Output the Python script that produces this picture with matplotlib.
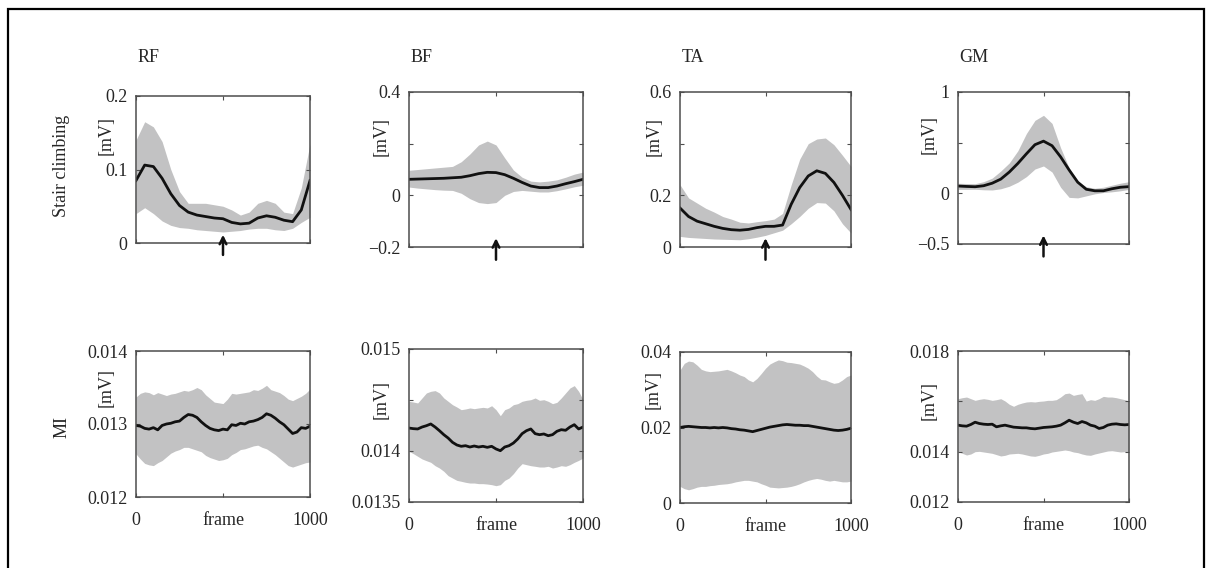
import numpy as np
import matplotlib.pyplot as plt
from matplotlib.patches import Rectangle

plt.rcParams['font.family'] = ['Liberation Serif', 'DejaVu Serif']

muscles = ['RF', 'BF', 'TA', 'GM']
rows = ['Stair climbing', 'MI']

# frames for stair climbing (every 50) and MI (every 25)
frames_sc = list(range(0, 1001, 50))
frames_mi = list(range(0, 1001, 25))

# ---- stair climbing: mean, mean+sd, mean-sd  [mV]
rf_sc_mean = [0.085, 0.106, 0.104, 0.088, 0.067, 0.051, 0.042, 0.038, 0.036, 0.034, 0.033,
              0.028, 0.026, 0.027, 0.034, 0.037, 0.035, 0.031, 0.029, 0.045, 0.085]
rf_sc_up = [0.140, 0.165, 0.158, 0.138, 0.100, 0.070, 0.054, 0.054, 0.054, 0.052, 0.050,
            0.045, 0.038, 0.042, 0.054, 0.058, 0.054, 0.042, 0.040, 0.075, 0.135]
rf_sc_lo = [0.040, 0.048, 0.040, 0.030, 0.024, 0.021, 0.020, 0.018, 0.017, 0.016, 0.015,
            0.016, 0.017, 0.019, 0.020, 0.020, 0.018, 0.017, 0.020, 0.028, 0.035]

bf_sc_mean = [0.062, 0.063, 0.064, 0.065, 0.066, 0.068, 0.070, 0.076, 0.084, 0.089, 0.088,
              0.080, 0.066, 0.050, 0.036, 0.030, 0.030, 0.036, 0.045, 0.053, 0.062]
bf_sc_up = [0.097, 0.100, 0.103, 0.106, 0.109, 0.112, 0.130, 0.160, 0.195, 0.210, 0.195,
            0.145, 0.098, 0.070, 0.055, 0.052, 0.055, 0.060, 0.070, 0.082, 0.090]
bf_sc_lo = [0.032, 0.028, 0.025, 0.022, 0.020, 0.019, 0.008, -0.013, -0.028, -0.032, -0.028,
            0.000, 0.015, 0.019, 0.016, 0.013, 0.013, 0.018, 0.025, 0.033, 0.039]

ta_sc_mean = [0.151, 0.118, 0.100, 0.090, 0.080, 0.072, 0.067, 0.065, 0.068, 0.075, 0.080,
              0.080, 0.085, 0.165, 0.230, 0.275, 0.295, 0.285, 0.250, 0.200, 0.145]
ta_sc_up = [0.241, 0.190, 0.170, 0.150, 0.135, 0.118, 0.108, 0.096, 0.093, 0.098, 0.102,
            0.108, 0.130, 0.240, 0.340, 0.400, 0.418, 0.422, 0.396, 0.355, 0.312]
ta_sc_lo = [0.041, 0.037, 0.035, 0.033, 0.031, 0.030, 0.029, 0.028, 0.032, 0.038, 0.045,
            0.055, 0.065, 0.090, 0.118, 0.150, 0.172, 0.170, 0.140, 0.090, 0.054]

gm_sc_mean = [0.072, 0.068, 0.065, 0.075, 0.100, 0.140, 0.210, 0.295, 0.390, 0.480, 0.515,
              0.470, 0.360, 0.230, 0.110, 0.040, 0.025, 0.025, 0.045, 0.060, 0.066]
gm_sc_up = [0.099, 0.097, 0.095, 0.115, 0.150, 0.220, 0.300, 0.420, 0.590, 0.720, 0.770,
            0.690, 0.450, 0.250, 0.120, 0.065, 0.050, 0.060, 0.080, 0.100, 0.115]
gm_sc_lo = [0.039, 0.039, 0.040, 0.035, 0.033, 0.045, 0.070, 0.110, 0.165, 0.240, 0.270,
            0.210, 0.060, -0.040, -0.045, -0.025, -0.005, 0.008, 0.015, 0.025, 0.039]

# ---- MI
rf_mi_mean = [0.01298, 0.01297, 0.01294, 0.01293, 0.01295, 0.01292, 0.01298, 0.01300, 0.01301,
              0.01303, 0.01304, 0.01309, 0.01313, 0.01312, 0.01309, 0.01303, 0.01298, 0.01294,
              0.01292, 0.01291, 0.01293, 0.01292, 0.01299, 0.01298, 0.01301, 0.01300, 0.01303,
              0.01304, 0.01306, 0.01309, 0.01314, 0.01312, 0.01308, 0.01303, 0.01299, 0.01293,
              0.01287, 0.01289, 0.01295, 0.01294, 0.01297]
rf_mi_up = [0.01337, 0.01342, 0.01344, 0.01343, 0.01340, 0.01343, 0.01341, 0.01339, 0.01341,
            0.01342, 0.01344, 0.01346, 0.01345, 0.01347, 0.01350, 0.01347, 0.01340, 0.01335,
            0.01330, 0.01329, 0.01328, 0.01334, 0.01342, 0.01341, 0.01342, 0.01343, 0.01344,
            0.01347, 0.01346, 0.01349, 0.01353, 0.01347, 0.01345, 0.01343, 0.01339, 0.01334,
            0.01332, 0.01335, 0.01338, 0.01342, 0.01348]
rf_mi_lo = [0.01259, 0.01252, 0.01246, 0.01244, 0.01243, 0.01247, 0.01250, 0.01255, 0.01260,
            0.01263, 0.01265, 0.01268, 0.01268, 0.01266, 0.01264, 0.01262, 0.01257, 0.01254,
            0.01252, 0.01250, 0.01251, 0.01253, 0.01258, 0.01261, 0.01265, 0.01266, 0.01268,
            0.01270, 0.01271, 0.01268, 0.01266, 0.01262, 0.01258, 0.01253, 0.01248, 0.01243,
            0.01241, 0.01243, 0.01245, 0.01247, 0.01248]

bf_mi_mean = [0.014225, 0.014219, 0.014216, 0.014235, 0.014248, 0.014265, 0.014235, 0.014199,
              0.014160, 0.014127, 0.014085, 0.014059, 0.014046, 0.014052, 0.014039, 0.014049,
              0.014039, 0.014046, 0.014036, 0.014046, 0.014020, 0.014003, 0.014039, 0.014052,
              0.014078, 0.014118, 0.014170, 0.014199, 0.014216, 0.014170, 0.014160, 0.014167,
              0.014150, 0.014160, 0.014193, 0.014209, 0.014203, 0.014235, 0.014258, 0.014216,
              0.014235]
bf_mi_up = [0.014487, 0.014480, 0.014471, 0.014520, 0.014569, 0.014585, 0.014592, 0.014569,
            0.014520, 0.014487, 0.014454, 0.014431, 0.014405, 0.014412, 0.014422, 0.014415,
            0.014422, 0.014428, 0.014422, 0.014444, 0.014405, 0.014346, 0.014405, 0.014422,
            0.014454, 0.014464, 0.014487, 0.014497, 0.014503, 0.014520, 0.014497, 0.014503,
            0.014487, 0.014464, 0.014477, 0.014520, 0.014569, 0.014618, 0.014641, 0.014585,
            0.014503]
bf_mi_lo = [0.013997, 0.013974, 0.013948, 0.013922, 0.013905, 0.013889, 0.013856, 0.013833,
            0.013801, 0.013758, 0.013735, 0.013712, 0.013703, 0.013693, 0.013686, 0.013686,
            0.013680, 0.013680, 0.013676, 0.013670, 0.013660, 0.013670, 0.013712, 0.013735,
            0.013778, 0.013833, 0.013876, 0.013866, 0.013856, 0.013850, 0.013843, 0.013843,
            0.013850, 0.013833, 0.013843, 0.013856, 0.013850, 0.013866, 0.013889, 0.013908,
            0.013931]

ta_mi_mean = [0.0200, 0.0202, 0.0203, 0.0202, 0.0201, 0.0200, 0.0200, 0.0199, 0.0200, 0.0199,
              0.0200, 0.0199, 0.0197, 0.0196, 0.0194, 0.0193, 0.0191, 0.0189, 0.0192, 0.0195,
              0.0198, 0.0201, 0.0203, 0.0205, 0.0207, 0.0208, 0.0207, 0.0206, 0.0206, 0.0205,
              0.0205, 0.0203, 0.0201, 0.0199, 0.0197, 0.0195, 0.0193, 0.0192, 0.0193, 0.0195,
              0.0198]
ta_mi_up = [0.0352, 0.0370, 0.0376, 0.0374, 0.0365, 0.0354, 0.0350, 0.0348, 0.0349, 0.0350,
            0.0352, 0.0354, 0.0350, 0.0345, 0.0339, 0.0335, 0.0326, 0.0321, 0.0330, 0.0343,
            0.0357, 0.0368, 0.0374, 0.0379, 0.0377, 0.0373, 0.0372, 0.0370, 0.0368, 0.0363,
            0.0357, 0.0348, 0.0336, 0.0327, 0.0326, 0.0321, 0.0317, 0.0319, 0.0326, 0.0335,
            0.0339]
ta_mi_lo = [0.0044, 0.0038, 0.0035, 0.0038, 0.0042, 0.0044, 0.0044, 0.0046, 0.0047, 0.0049,
            0.0050, 0.0051, 0.0053, 0.0056, 0.0058, 0.0060, 0.0060, 0.0058, 0.0056, 0.0051,
            0.0047, 0.0042, 0.0041, 0.0040, 0.0041, 0.0042, 0.0044, 0.0047, 0.0051, 0.0056,
            0.0060, 0.0063, 0.0065, 0.0063, 0.0060, 0.0058, 0.0060, 0.0058, 0.0056, 0.0056,
            0.0058]

gm_mi_mean = [0.015053, 0.015026, 0.015013, 0.015079, 0.015171, 0.015118, 0.015092, 0.015079,
              0.015092, 0.014987, 0.015026, 0.015053, 0.015013, 0.014974, 0.014961, 0.014947,
              0.014947, 0.014921, 0.014908, 0.014934, 0.014961, 0.014974, 0.014987, 0.015013,
              0.015053, 0.015145, 0.015250, 0.015171, 0.015118, 0.015197, 0.015145, 0.015053,
              0.015013, 0.014921, 0.014961, 0.015053, 0.015092, 0.015105, 0.015079, 0.015066,
              0.015079]
gm_mi_up = [0.016105, 0.016145, 0.016171, 0.016105, 0.016039, 0.016079, 0.016105, 0.016079,
            0.016039, 0.016066, 0.016105, 0.016013, 0.015882, 0.015803, 0.015882, 0.015934,
            0.015974, 0.015987, 0.015974, 0.016000, 0.016013, 0.016039, 0.016039, 0.016066,
            0.016171, 0.016303, 0.016329, 0.016237, 0.016276, 0.016303, 0.016013, 0.016066,
            0.016039, 0.016105, 0.016197, 0.016171, 0.016171, 0.016145, 0.016105, 0.016066,
            0.016013]
gm_mi_lo = [0.014000, 0.013934, 0.013868, 0.013908, 0.014000, 0.014013, 0.013987, 0.013961,
            0.013934, 0.013882, 0.013829, 0.013855, 0.013908, 0.013921, 0.013934, 0.013908,
            0.013868, 0.013829, 0.013816, 0.013855, 0.013908, 0.013934, 0.013987, 0.014013,
            0.014039, 0.014066, 0.014039, 0.013987, 0.013961, 0.013908, 0.013868, 0.013855,
            0.013908, 0.013947, 0.013987, 0.014026, 0.014039, 0.014013, 0.013987, 0.014000,
            0.014000]

sc_data = [(rf_sc_mean, rf_sc_up, rf_sc_lo), (bf_sc_mean, bf_sc_up, bf_sc_lo),
           (ta_sc_mean, ta_sc_up, ta_sc_lo), (gm_sc_mean, gm_sc_up, gm_sc_lo)]
mi_data = [(rf_mi_mean, rf_mi_up, rf_mi_lo), (bf_mi_mean, bf_mi_up, bf_mi_lo),
           (ta_mi_mean, ta_mi_up, ta_mi_lo), (gm_mi_mean, gm_mi_up, gm_mi_lo)]

# y limits, ticks and tick labels
sc_ylim = [(0, 0.2), (-0.2, 0.4), (0, 0.6), (-0.5, 1)]
sc_yticks = [[0, 0.1, 0.2], [-0.2, 0, 0.2, 0.4], [0, 0.2, 0.4, 0.6], [-0.5, 0, 0.5, 1]]
sc_ylabels = [['0', '0.1', '0.2'], ['\u22120.2', '0', '', '0.4'], ['0', '0.2', '', '0.6'],
              ['\u22120.5', '0', '', '1']]
mi_ylim = [(0.012, 0.014), (0.0135, 0.015), (0, 0.04), (0.012, 0.018)]
mi_yticks = [[0.012, 0.013, 0.014], [0.0135, 0.014, 0.0145, 0.015], [0, 0.02, 0.04],
             [0.012, 0.014, 0.016, 0.018]]
mi_ylabels = [['0.012', '0.013', '0.014'], ['0.0135', '0.014', '', '0.015'], ['0', '0.02', '0.04'],
              ['0.012', '0.014', '', '0.018']]
arrow_frame = 500

W, H = 1207, 568
# axes boxes in pixels: left, right, top, bottom
sc_box = [(136, 310, 96, 243), (409, 583, 92, 247), (680, 851, 92, 247), (958, 1129, 92, 244)]
mi_box = [(136, 310, 351, 497), (409, 583, 349, 502), (680, 851, 352, 503), (958, 1129, 351, 502)]
sc_mv = [(-0.12, 0.73), (-0.11, 0.71), (-0.10, 0.71), (-0.12, 0.72)]
mi_mv = [(-0.125, 0.75), (-0.11, 0.67), (-0.105, 0.75), (-0.12, 0.675)]

fill_col = '#c2c2c3'
txt_col = '#262626'
fs = 13

fig = plt.figure(figsize=(W / 100, H / 100), dpi=100)


def box_rect(b):
    l, r, t, bt = b
    return [l / W, 1 - bt / H, (r - l) / W, (bt - t) / H]


def style_axes(ax):
    for s in ax.spines.values():
        s.set_color('#4d4d4d')
        s.set_linewidth(1.1)
    ax.tick_params(direction='in', length=3, width=0.8, color='#4d4d4d', top=True, right=True,
                   labelsize=fs, labelcolor=txt_col)
    ax.tick_params(axis='y', pad=6)
    ax.tick_params(axis='x', pad=11)


for i in range(4):
    # stair climbing row
    ax = fig.add_axes(box_rect(sc_box[i]))
    m, u, lo = sc_data[i]
    ax.fill_between(frames_sc, lo, u, color=fill_col, lw=0)
    ax.plot(frames_sc, m, color='#111111', lw=2.0)
    ax.set_xlim(0, 1000)
    ax.set_ylim(*sc_ylim[i])
    ax.set_xticks([0, 500, 1000])
    ax.set_xticklabels([])
    ax.set_yticks(sc_yticks[i])
    ax.set_yticklabels(sc_ylabels[i])
    style_axes(ax)
    ax.set_ylabel('[mV]', fontsize=fs, color=txt_col)
    ax.yaxis.set_label_coords(*sc_mv[i])
    ax.annotate('', xy=(arrow_frame, 0.075), xytext=(arrow_frame, -0.1),
                xycoords=('data', 'axes fraction'), textcoords=('data', 'axes fraction'),
                arrowprops=dict(arrowstyle='->', lw=1.8, color='#111111',
                                mutation_scale=12), annotation_clip=False)
    fig.text(sc_box[i][0] / W + 0.001, 1 - 58 / H, muscles[i], fontsize=fs, color=txt_col,
             ha='left', va='center')

    # MI row
    ax = fig.add_axes(box_rect(mi_box[i]))
    m, u, lo = mi_data[i]
    ax.fill_between(frames_mi, lo, u, color=fill_col, lw=0)
    ax.plot(frames_mi, m, color='#111111', lw=2.0)
    ax.set_xlim(0, 1000)
    ax.set_ylim(*mi_ylim[i])
    ax.set_xticks([0, 500, 1000])
    ax.set_xticklabels(['0', '', '1000'])
    ax.set_yticks(mi_yticks[i])
    ax.set_yticklabels(mi_ylabels[i])
    style_axes(ax)
    ax.set_ylabel('[mV]', fontsize=fs, color=txt_col)
    ax.yaxis.set_label_coords(*mi_mv[i])
    ax.set_xlabel('frame', fontsize=fs, color=txt_col, labelpad=-12.5)

# row labels
fig.text(62 / W, 1 - 166 / H, rows[0], rotation=90, fontsize=fs, color=txt_col,
         ha='center', va='center')
fig.text(62 / W, 1 - 427 / H, rows[1], rotation=90, fontsize=fs, color=txt_col,
         ha='center', va='center')

# outer frame
fig.patches.append(Rectangle((8 / W, -0.05), (1204 - 8) / W, 1.05 - 9 / H, transform=fig.transFigure,
                             fill=False, edgecolor='black', lw=1.6, clip_on=False))

plt.savefig('out.png', dpi=100)
